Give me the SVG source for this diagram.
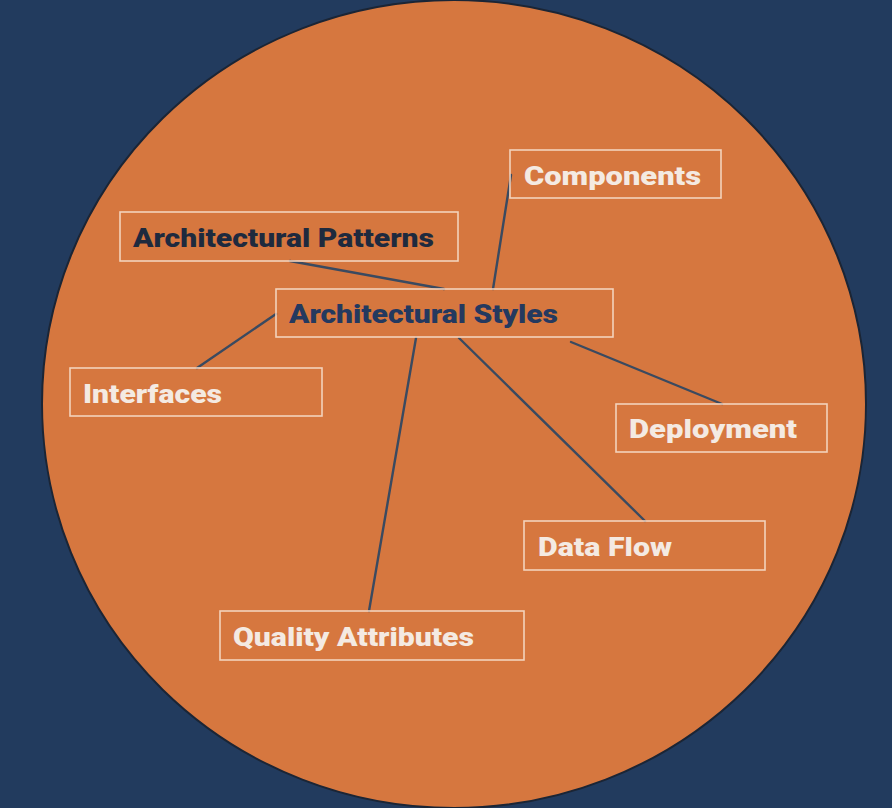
<svg xmlns="http://www.w3.org/2000/svg" width="892" height="808" viewBox="0 0 892 808">
  <style>
    .box { fill: none; stroke: #F3D3BC; stroke-width: 1.6; }
    .lbl { font-family: Roboto, "Liberation Sans", sans-serif; font-weight: 900; font-size: 26px; }
    .light { fill: #F4EAE2; }
    .dark { fill: #1E2A3E; }
    .navy { fill: #24395F; }
    .link { stroke: #3A4A60; stroke-width: 2.4; fill: none; stroke-linecap: round; }
  </style>
  <rect x="0" y="0" width="892" height="808" fill="#223B5E"/>
  <ellipse cx="454" cy="404" rx="412" ry="404" fill="#D6773F" stroke="#1B2535" stroke-width="2"/>

  <g id="connectors">
    <line class="link" x1="290" y1="261" x2="444" y2="289"/>
    <line class="link" x1="511" y1="175" x2="493" y2="289"/>
    <line class="link" x1="276" y1="314" x2="197" y2="368"/>
    <line class="link" x1="416" y1="338" x2="369" y2="611"/>
    <line class="link" x1="459" y1="338" x2="645" y2="521"/>
    <line class="link" x1="571" y1="342" x2="722" y2="404"/>
  </g>

  <g id="components">
    <rect class="box" x="510" y="150" width="211" height="48"/>
    <text class="lbl light" x="524" y="185" textLength="177" lengthAdjust="spacingAndGlyphs">Components</text>
  </g>
  <g id="architectural-patterns">
    <rect class="box" x="120" y="212" width="338" height="49"/>
    <text class="lbl dark" x="133" y="247" textLength="301" lengthAdjust="spacingAndGlyphs">Architectural Patterns</text>
  </g>
  <g id="architectural-styles">
    <rect class="box" x="276" y="289" width="337" height="48"/>
    <text class="lbl navy" x="289" y="323" textLength="269" lengthAdjust="spacingAndGlyphs">Architectural Styles</text>
  </g>
  <g id="interfaces">
    <rect class="box" x="70" y="368" width="252" height="48"/>
    <text class="lbl light" x="83" y="403" textLength="139" lengthAdjust="spacingAndGlyphs">Interfaces</text>
  </g>
  <g id="deployment">
    <rect class="box" x="616" y="404" width="211" height="48"/>
    <text class="lbl light" x="629" y="438" textLength="168" lengthAdjust="spacingAndGlyphs">Deployment</text>
  </g>
  <g id="data-flow">
    <rect class="box" x="524" y="521" width="241" height="49"/>
    <text class="lbl light" x="538" y="556" textLength="134" lengthAdjust="spacingAndGlyphs">Data Flow</text>
  </g>
  <g id="quality-attributes">
    <rect class="box" x="220" y="611" width="304" height="49"/>
    <text class="lbl light" x="233" y="646" textLength="241" lengthAdjust="spacingAndGlyphs">Quality Attributes</text>
  </g>
</svg>
